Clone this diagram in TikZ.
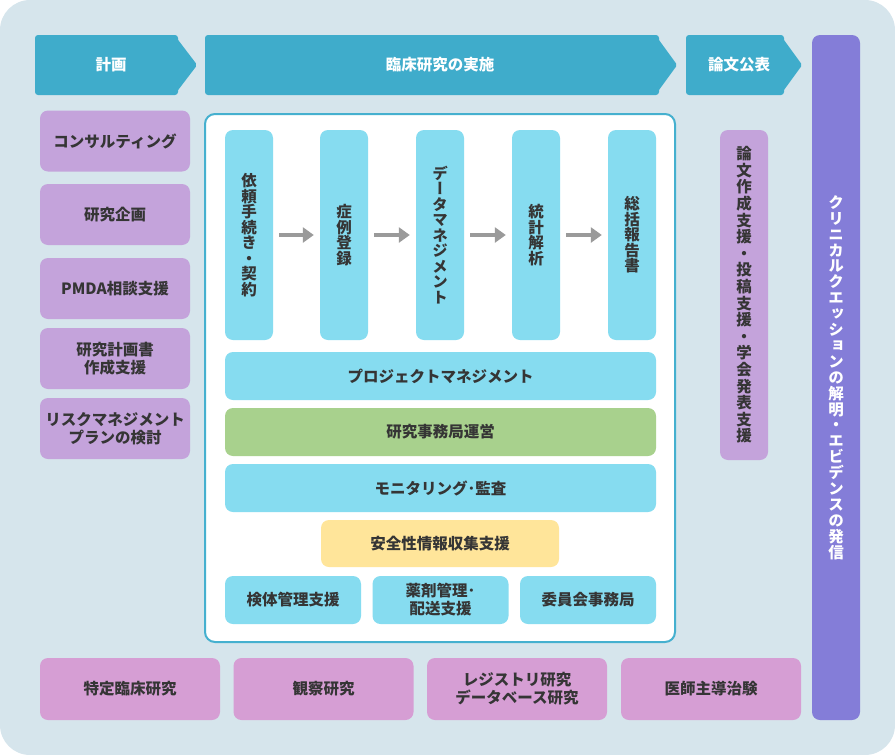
\documentclass[tikz,border=0pt]{standalone}
\usepackage{fontspec}
\setmainfont{Noto Sans CJK JP}
\newfontfamily\vfont{Noto Sans CJK JP}[RawFeature=+vert]
\usepackage{tikz}
\usetikzlibrary{arrows.meta, positioning}
\definecolor{BgGrey}{HTML}{D6E5EC}
\definecolor{PhaseBlue}{HTML}{3FACCB}
\definecolor{LPurple}{HTML}{C4A3DB}
\definecolor{LPink}{HTML}{D69ED4}
\definecolor{Violet}{HTML}{847DD8}
\definecolor{StepCyan}{HTML}{86DCF0}
\definecolor{OfficeGreen}{HTML}{A8D18D}
\definecolor{SafeYellow}{HTML}{FFE59A}
\definecolor{FrameBlue}{HTML}{45B0CF}
\definecolor{TxtDark}{HTML}{353535}
\definecolor{ArrGrey}{HTML}{9A9A9A}

% one character per line, for the upright columns
\ExplSyntaxOn
\NewDocumentCommand\vtext{O{16}m}
 {
  \vbox{ \vfont \baselineskip=#1pt \lineskiplimit=-100pt
   \tl_map_inline:nn {#2} { \hbox_to_wd:nn {1.2em} { \hss ##1 \hss } } }
 }
\ExplSyntaxOff

\begin{document}
\begin{tikzpicture}[x=1pt, y=-1pt,
	every node/.style={font=\fontsize{15.5}{18}\selectfont\bfseries, text=TxtDark, align=center},
	phase/.style={fill=PhaseBlue, rounded corners=3pt, minimum height=60pt, text=white, inner sep=0pt},
	tip/.style={fill=PhaseBlue, rounded corners=2pt},
	lbox/.style={rounded corners=8pt, fill=LPurple, minimum width=150pt, minimum height=61pt},
	kind/.style={rounded corners=8pt, fill=LPink, minimum width=180pt, minimum height=62pt},
	stepbox/.style={rounded corners=8pt, fill=StepCyan, minimum width=48pt, minimum height=210pt, inner sep=0pt},
	wide/.style={rounded corners=8pt, fill=#1, minimum width=431pt, minimum height=48pt},
	sub/.style={rounded corners=8pt, fill=StepCyan, minimum width=136pt, minimum height=48pt},
	fl/.style={-{Triangle[length=11pt, width=15pt]}, line width=4.5pt, ArrGrey,
		shorten <=6pt, shorten >=6pt}]
	\useasboundingbox (0,0) rectangle (895,755);
	\fill[BgGrey, rounded corners=30pt] (0,0) rectangle (895,755);

	% phases
	\node[phase, minimum width=143pt] (plan) at (106.5,65) {\hspace*{9pt}計画};
	\fill[tip] ([xshift=-4pt]plan.north east) -- ([xshift=19pt]plan.east) -- ([xshift=-4pt]plan.south east) -- cycle;
	\node[phase, minimum width=454pt] (run) at (432,65) {\hspace*{16pt}臨床研究の実施};
	\fill[tip] ([xshift=-4pt]run.north east) -- ([xshift=18pt]run.east) -- ([xshift=-4pt]run.south east) -- cycle;
	\node[phase, minimum width=98pt] (pub) at (735,65) {\hspace*{8pt}論文公表};
	\fill[tip] ([xshift=-4pt]pub.north east) -- ([xshift=18pt]pub.east) -- ([xshift=-4pt]pub.south east) -- cycle;

	% planning support
	\node[lbox] (cons) at (115,141) {コンサルティング};
	\node[lbox] (plan1) at (115,214.5) {研究企画};
	\node[lbox] (pmda) at (115,288.5) {PMDA相談支援};
	\node[lbox] (prot) at (115,358.5) {研究計画書\\作成支援};
	\node[lbox] (risk) at (115,428.5) {リスクマネジメント\\プランの検討};

	% conduct of the study
	\node[draw=FrameBlue, line width=2pt, fill=white, rounded corners=10pt,
		minimum width=470pt, minimum height=528pt] (frame) at (440,378) {};
	\node[stepbox] (s1) at (249,235) {\vtext[15.5]{依頼手続き・契約}};
	\node[stepbox] (s2) at (344,235) {\vtext[15.5]{症例登録}};
	\node[stepbox] (s3) at (440,235) {\vtext[15.5]{データマネジメント}};
	\node[stepbox] (s4) at (536,235) {\vtext[15.5]{統計解析}};
	\node[stepbox] (s5) at (632,235) {\vtext[15.5]{総括報告書}};
	\draw[fl] (s1) -- (s2);
	\draw[fl] (s2) -- (s3);
	\draw[fl] (s3) -- (s4);
	\draw[fl] (s4) -- (s5);
	\node[wide=StepCyan] (pm) at (440.5,376) {プロジェクトマネジメント};
	\node[wide=OfficeGreen] (office) at (440.5,432) {研究事務局運営};
	\node[wide=StepCyan] (mon) at (440.5,488) {モニタリング･監査};
	\node[rounded corners=8pt, fill=SafeYellow, minimum width=238pt, minimum height=47pt] (safe) at (440,543.5) {安全性情報収集支援};
	\node[sub] (spec) at (293,600) {検体管理支援};
	\node[sub] (drug) at (440.5,600) {薬剤管理･\\配送支援};
	\node[sub] (comm) at (588,600) {委員会事務局};

	% publication
	\node[rounded corners=8pt, fill=LPurple, minimum width=48pt, minimum height=330pt, inner sep=0pt]
		(paper) at (744,295) {\vtext[16.6]{論文作成支援・投稿支援・学会発表支援}};
	\node[rounded corners=8pt, fill=Violet, minimum width=48pt, minimum height=685pt, inner sep=0pt, text=white]
		(goal) at (836,377.5) {\vtext[15.9]{クリニカルクエッションの解明・エビデンスの発信}};

	% kinds of study
	\node[kind] (k1) at (130,689) {特定臨床研究};
	\node[kind] (k2) at (323.5,689) {観察研究};
	\node[kind] (k3) at (517,689) {レジストリ研究\\データベース研究};
	\node[kind] (k4) at (711,689) {医師主導治験};
\end{tikzpicture}
\end{document}
